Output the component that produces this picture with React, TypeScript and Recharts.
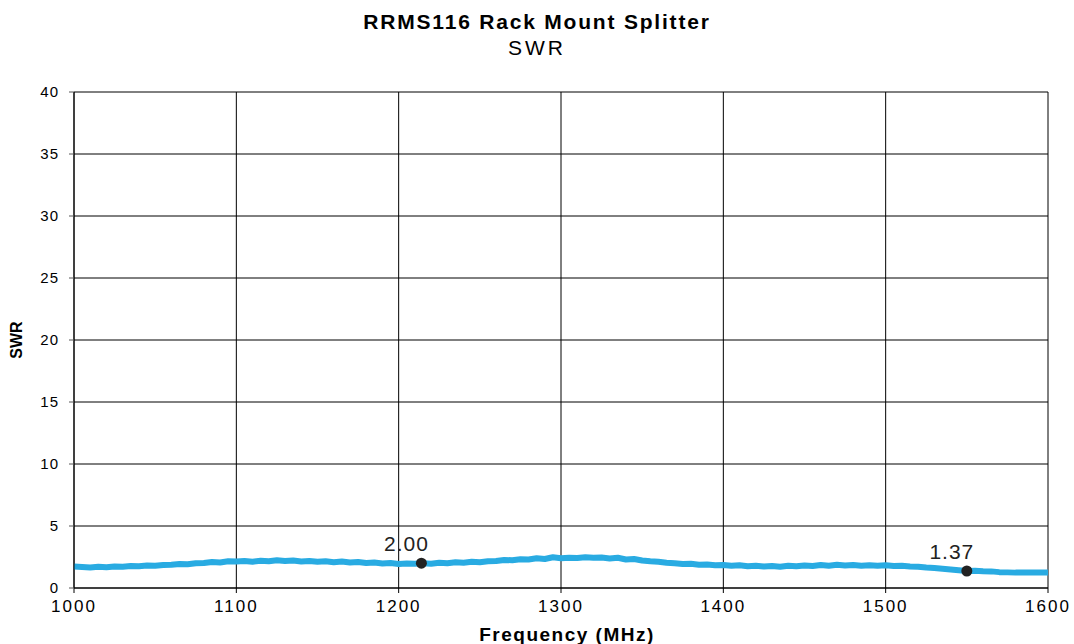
import React from "react";
import {
  LineChart,
  Line,
  XAxis,
  YAxis,
  CartesianGrid,
  ReferenceDot,
} from "recharts";

const freqs = [
  1000, 1005, 1010, 1015, 1020, 1025, 1030, 1035, 1040, 1045,
  1050, 1055, 1060, 1065, 1070, 1075, 1080, 1085, 1090, 1095,
  1100, 1105, 1110, 1115, 1120, 1125, 1130, 1135, 1140, 1145,
  1150, 1155, 1160, 1165, 1170, 1175, 1180, 1185, 1190, 1195,
  1200, 1205, 1210, 1215, 1220, 1225, 1230, 1235, 1240, 1245,
  1250, 1255, 1260, 1265, 1270, 1275, 1280, 1285, 1290, 1295,
  1300, 1305, 1310, 1315, 1320, 1325, 1330, 1335, 1340, 1345,
  1350, 1355, 1360, 1365, 1370, 1375, 1380, 1385, 1390, 1395,
  1400, 1405, 1410, 1415, 1420, 1425, 1430, 1435, 1440, 1445,
  1450, 1455, 1460, 1465, 1470, 1475, 1480, 1485, 1490, 1495,
  1500, 1505, 1510, 1515, 1520, 1525, 1530, 1535, 1540, 1545,
  1550, 1555, 1560, 1565, 1570, 1575, 1580, 1585, 1590, 1595,
  1600,
];

const swr = [
  1.74, 1.7, 1.66, 1.72, 1.68, 1.74, 1.72, 1.78, 1.76, 1.82,
  1.8, 1.86, 1.88, 1.94, 1.92, 2.0, 2.02, 2.1, 2.06, 2.16,
  2.14, 2.18, 2.12, 2.2, 2.16, 2.24, 2.18, 2.22, 2.14, 2.18,
  2.12, 2.16, 2.08, 2.14, 2.06, 2.1, 2.02, 2.06, 1.98, 2.02,
  1.94, 1.98, 1.96, 2.0, 1.96, 2.04, 2.0, 2.08, 2.04, 2.12,
  2.08, 2.16, 2.18, 2.26, 2.24, 2.32, 2.3, 2.4, 2.34, 2.48,
  2.4, 2.44, 2.42, 2.48, 2.44, 2.46, 2.38, 2.44, 2.3, 2.34,
  2.22, 2.16, 2.12, 2.04, 2.0, 1.94, 1.96, 1.88, 1.9, 1.84,
  1.86, 1.8, 1.84, 1.76, 1.8, 1.74, 1.78, 1.72, 1.8, 1.76,
  1.82, 1.78, 1.86, 1.8, 1.88, 1.82, 1.86, 1.8, 1.84, 1.8,
  1.84, 1.78, 1.8, 1.74, 1.72, 1.66, 1.62, 1.56, 1.5, 1.44,
  1.38, 1.4, 1.36, 1.34, 1.28, 1.26, 1.24, 1.25, 1.24, 1.25,
  1.26,
];

const markers = [
  { freq: 1214, value: 2.0, label: "2.00" },
  { freq: 1550, value: 1.37, label: "1.37" },
];

const xTicks = [1000, 1100, 1200, 1300, 1400, 1500, 1600];
const yTicks = [0, 5, 10, 15, 20, 25, 30, 35, 40];

const data = freqs.map((f, i) => ({ freq: f, swr: swr[i] }));

const font = "'Liberation Sans', Arial, Helvetica, sans-serif";

const MarkerShape = (label: string) => (props: any) => {
  const { cx, cy } = props;
  return (
    <g>
      <circle cx={cx} cy={cy} r={5.5} fill="#222" />
      <text
        x={cx - 15}
        y={cy - 12}
        textAnchor="middle"
        fontSize={21}
        letterSpacing={1}
        fontFamily={font}
        fill="#222"
      >
        {label}
      </text>
    </g>
  );
};

export default function App() {
  return (
    <div
      style={{
        position: "absolute",
        left: 0,
        top: 0,
        width: 1074,
        height: 644,
        background: "#fff",
        fontFamily: font,
      }}
    >
      <LineChart
        width={1074}
        height={644}
        data={data}
        margin={{ top: 92, right: 26, bottom: 0, left: 0 }}
      >
        <text x={537} y={29} textAnchor="middle" fontSize={21} fontWeight="bold" letterSpacing={1.8} fontFamily={font} fill="#000">
          RRMS116  Rack Mount Splitter
        </text>
        <text x={537} y={55} textAnchor="middle" fontSize={21} letterSpacing={3} fontFamily={font} fill="#000">
          SWR
        </text>
        <CartesianGrid stroke="#000" strokeWidth={1} horizontal={{ stroke: "#555" }} />
        <XAxis
          dataKey="freq"
          type="number"
          domain={[1000, 1600]}
          ticks={xTicks}
          height={56}
          axisLine={{ stroke: "#000" }}
          tickLine={{ stroke: "#000" }}
          tickSize={5}
          tickMargin={7}
          tick={{ fontSize: 17, fill: "#000", fontFamily: font, letterSpacing: 2 }}
          label={{
            value: "Frequency (MHz)",
            position: "insideBottom",
            offset: 3,
            dx: 6,
            fontSize: 19,
            fontWeight: "bold",
            fill: "#000",
            fontFamily: font,
            letterSpacing: 1.5,
          }}
        />
        <YAxis
          width={74}
          type="number"
          domain={[0, 40]}
          ticks={yTicks}
          axisLine={{ stroke: "#000" }}
          tickLine={{ stroke: "#555" }}
          tickSize={5}
          tickMargin={10}
          tick={{ fontSize: 15, fill: "#000", fontFamily: font, letterSpacing: 1 }}
          label={{
            value: "SWR",
            angle: -90,
            position: "insideLeft",
            offset: 16,
            fontSize: 16,
            fontWeight: "bold",
            fill: "#000",
            fontFamily: font,
            style: { textAnchor: "middle" },
          }}
        />
        <Line
          dataKey="swr"
          type="linear"
          stroke="#29abe2"
          strokeWidth={6}
          strokeLinejoin="round"
          dot={false}
          isAnimationActive={false}
        />
        {markers.map((m) => (
          <ReferenceDot
            key={m.label}
            x={m.freq}
            y={m.value}
            r={5}
            shape={MarkerShape(m.label)}
          />
        ))}
      </LineChart>
    </div>
  );
}
